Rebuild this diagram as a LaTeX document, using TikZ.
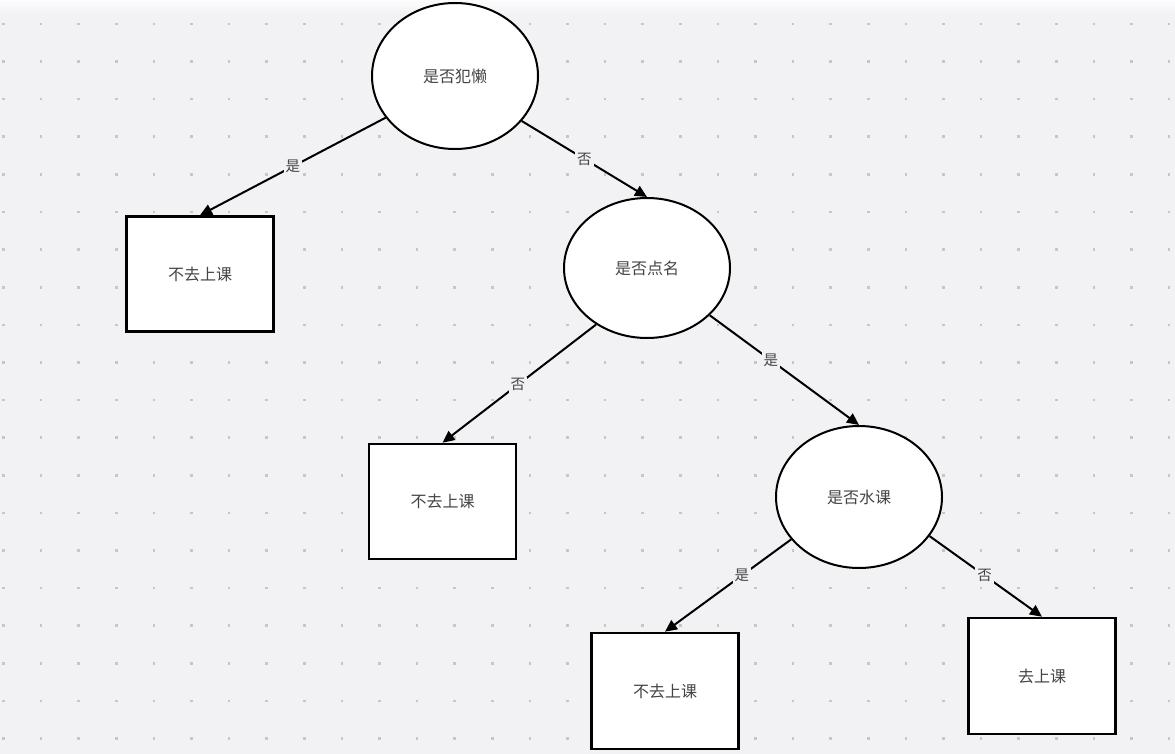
\documentclass[tikz,border=0pt]{standalone}
\usepackage{fontspec}
\newfontfamily\cjk{Noto Sans CJK SC}
\usetikzlibrary{shapes.geometric,arrows.meta}
\definecolor{bgc}{RGB}{242,242,245}
\definecolor{dotc}{RGB}{198,198,202}
\definecolor{txtc}{RGB}{68,68,68}
\tikzset{
  decision/.style={ellipse,draw=black,line width=2pt,fill=white,minimum width=166pt,minimum height=146pt,inner sep=0pt,text=txtc,font=\cjk\fontsize{16}{19}\selectfont},
  leaf/.style={rectangle,draw=black,line width=2.6pt,fill=white,minimum width=147pt,minimum height=115pt,inner sep=0pt,text=txtc,font=\cjk\fontsize{16}{19}\selectfont},
  edge/.style={line width=2pt,draw=black,-{Triangle[length=12pt,width=11pt]}},
  elabel/.style={fill=bgc,inner sep=2pt,text=txtc,font=\cjk\fontsize{14.5}{17}\selectfont}
}
\begin{document}
\begin{tikzpicture}[x=1pt,y=-1pt]
\fill[bgc] (0,0) rectangle (1175,754);
\useasboundingbox (0,0) rectangle (1175,754);
\shade[top color=white,bottom color=bgc,opacity=0.8] (0,0) rectangle (1175,16);
\foreach \i in {0,...,31}{
  \foreach \j in {0,...,19}{
    \fill[dotc] ({3.5+37.6*\i-1.3},{24+37.6*\j-1.3}) rectangle ++(2.6,2.6);
  }
}
% nodes
\node[decision] (e1) at (455,76) {是否犯懒};
\node[decision,minimum height=140pt] (e2) at (647,268) {是否点名};
\node[decision,minimum height=142pt] (e3) at (859,497) {是否水课};
\node[leaf] (b1) at (200,274) {不去上课};
\node[leaf] (b2) at (442.5,501.5) {不去上课};
\node[leaf,minimum height=116pt] (b3) at (665,691) {不去上课};
\node[leaf,minimum height=116pt] (b4) at (1042,676) {去上课};
% edges
\draw[edge] (e1.211.6) -- node[elabel,pos=0.5] {是} (b1.north);
\draw[edge] (e1.326.9) -- node[elabel,pos=0.5] {否} (e2.north);
\draw[edge] (e2.228.7) -- node[elabel,pos=0.51] {否} (b2.north);
\draw[edge] (e2.323.6) -- node[elabel,pos=0.41] {是} (e3.north);
\draw[edge] (e3.212.7) -- node[elabel,pos=0.39] {是} (b3.north);
\draw[edge] (e3.331.8) -- node[elabel,pos=0.49] {否} (b4.north);
\end{tikzpicture}
\end{document}
